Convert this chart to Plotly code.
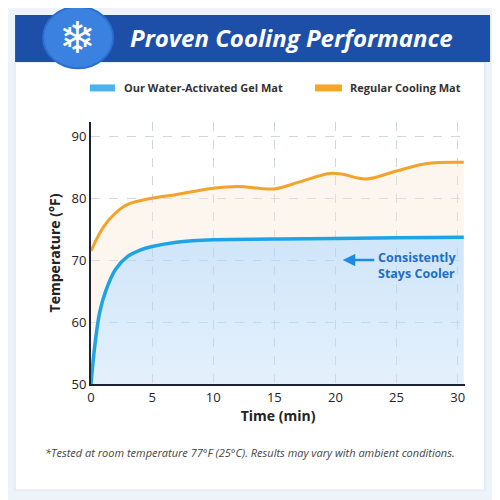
import plotly.graph_objects as go

time_gel = [0, 0.3, 0.7, 1.2, 2, 3, 4, 5, 7, 10, 15, 20, 25, 30.5]
temp_gel = [50, 56, 61.5, 65, 68.5, 70.6, 71.6, 72.2, 72.9, 73.3, 73.4, 73.5, 73.6, 73.7]
time_reg = [0, 1, 2, 3, 5, 7, 10, 12, 15, 17, 19.5, 20.5, 22.5, 25, 27.5, 30.5]
temp_reg = [71.5, 75.3, 77.6, 79, 80, 80.6, 81.6, 81.9, 81.5, 82.6, 84, 83.9, 83.1, 84.4, 85.6, 85.8]
x_ticks = [0, 5, 10, 15, 20, 25, 30]
y_ticks = [50, 60, 70, 80, 90]

fig = go.Figure()
fig.add_trace(go.Scatter(x=time_gel, y=temp_gel, mode="lines", line=dict(color="#1fa3e6", width=3.5, shape="spline"),
                         fill="tozeroy", fillgradient=dict(type="vertical", colorscale=[[0, "rgba(240,247,254,0.2)"], [1, "rgba(175,212,245,0.6)"]]),
                         name="Our Water-Activated Gel Mat", showlegend=False))
fig.add_trace(go.Scatter(x=time_reg, y=temp_reg, mode="lines", line=dict(color="#f3a32a", width=3, shape="spline"),
                         fill="tonexty", fillcolor="rgba(248,228,205,0.35)",
                         name="Regular Cooling Mat", showlegend=False))

shapes = [
    dict(type="rect", xref="paper", yref="paper", x0=-0.203, x1=1.053, y0=-0.405, y1=1.229,
         fillcolor="white", line=dict(color="#d8e3f0", width=1), layer="below"),
    dict(type="rect", xref="paper", yref="paper", x0=-0.203, x1=1.067, y0=1.229, y1=1.408,
         fillcolor="#1d4fa8", line=dict(width=0), layer="below"),
    dict(type="circle", xref="paper", yref="paper", x0=-0.128, x1=0.059, y0=1.205, y1=1.44,
         fillcolor="#3b82e0", line=dict(color="#2a6fd0", width=2), layer="above"),
    dict(type="line", xref="paper", yref="paper", x0=-0.003, x1=0.064, y0=1.13, y1=1.13,
         line=dict(color="#4ab3ee", width=7)),
    dict(type="line", xref="paper", yref="paper", x0=0.599, x1=0.671, y0=1.13, y1=1.13,
         line=dict(color="#f5a623", width=7)),
]
annotations = [
    dict(text="❄", xref="paper", yref="paper", x=-0.035, y=1.322, xanchor="center", yanchor="middle",
         showarrow=False, font=dict(size=44, color="white", family="DejaVu Sans")),
    dict(text="<b><i>Proven Cooling Performance</i></b>", xref="paper", yref="paper", x=0.537, y=1.321,
         xanchor="center", yanchor="middle",
         showarrow=False, font=dict(size=24, color="white", family="Open Sans")),
    dict(text="<b>Our Water-Activated Gel Mat</b>", xref="paper", yref="paper", x=0.083, y=1.13,
         xanchor="left", yanchor="middle",
         showarrow=False, font=dict(size=11, color="#333", family="Open Sans")),
    dict(text="<b>Regular Cooling Mat</b>", xref="paper", yref="paper", x=0.687, y=1.13,
         xanchor="left", yanchor="middle",
         showarrow=False, font=dict(size=11, color="#333", family="Open Sans")),
    dict(text="<b>Consistently<br>Stays Cooler</b>", x=30, y=69.1, xanchor="right", align="left",
         showarrow=False, font=dict(size=12.5, color="#1f6fc5", family="Open Sans")),
    dict(x=20.6, y=70.0, ax=23.3, ay=70.0, axref="x", ayref="y", text="", showarrow=True,
         arrowhead=2, arrowsize=1, arrowwidth=2.5, arrowcolor="#1f8be0"),
    dict(text="<i>*Tested at room temperature 77°F (25°C). Results may vary with ambient conditions.</i>",
         xref="paper", yref="paper", x=0.425, y=-0.263, yanchor="middle", showarrow=False,
         font=dict(size=11, color="#444", family="Open Sans")),
]

fig.update_layout(
    width=500, height=500, margin=dict(l=83, r=43, t=114, b=124),
    paper_bgcolor="#eef3fa", plot_bgcolor="rgba(0,0,0,0)",
    shapes=shapes, annotations=annotations,
    font=dict(family="Open Sans", color="#222"),
    xaxis=dict(range=[0, 30.6], tickvals=x_ticks, showgrid=True, gridcolor="#cfd6de", griddash="dash",
               showline=True, linecolor="#1a2233", linewidth=2, zeroline=False, ticks="",
               tickfont=dict(size=13, color="#222"),
               title=dict(text="<b>Time (min)</b>", font=dict(size=14, color="#222"), standoff=6)),
    yaxis=dict(range=[50, 92.3], tickvals=y_ticks, showgrid=True, gridcolor="#cfd6de", griddash="dash",
               showline=True, linecolor="#1a2233", linewidth=2, zeroline=False, ticks="",
               tickfont=dict(size=13, color="#222"),
               title=dict(text="<b>Temperature (°F)</b>", font=dict(size=14, color="#222"), standoff=8)),
)
fig.write_html("out.html")
